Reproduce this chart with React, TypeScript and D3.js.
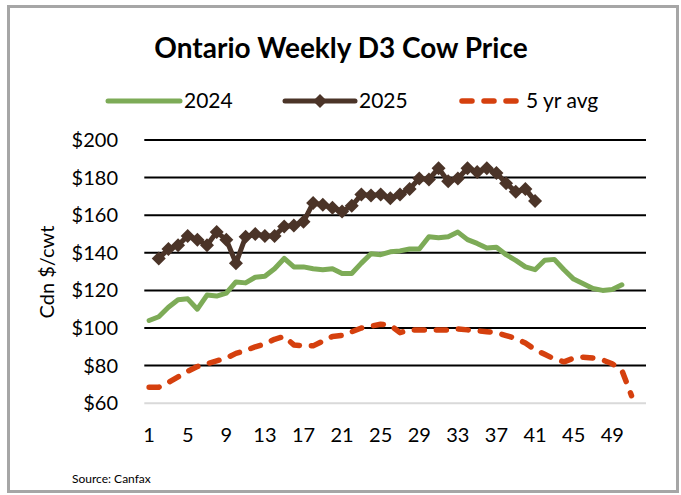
import React, { useEffect, useRef } from "react";
import * as d3 from "d3";

// weekly price, Cdn $/cwt (index 0 = week 1)
const price2024 = [
  104, 106, 111, 115, 115.5, 110, 117.5, 117, 118.5, 124.5, 124, 127, 127.5, 131.5, 137, 132.5,
  132.5, 131.5, 131, 131.5, 129, 129, 134.5, 139.5, 139, 140.5, 141, 142, 142, 148.5, 148,
  148.5, 151, 147, 145, 142.5, 143, 139, 136, 132.5, 131, 136, 136.5, 131, 126, 123.5, 121,
  120, 120.5, 123,
];
const price2025 = [
  null, 137, 142, 144, 149, 147, 144, 151, 147, 134.5, 148.5, 150, 149, 149, 154, 154.5,
  156.5, 166.5, 165.5, 164, 162, 165, 171, 170.5, 171, 169, 171, 174, 179.5, 179, 185, 178,
  179.5, 185, 183, 185, 182.5, 177, 172.5, 174, 167.5,
];
const avg5yr = [
  68.5, 68.5, 71, 74, 77, 79.5, 81, 82.5, 84, 86.5, 88, 90, 91.5, 94, 95.5, 91, 90.5, 90.5,
  93, 95.5, 96, 98, 100, 101, 102, 101.5, 97.5, 99, 99, 99, 99, 99, 99.5, 99, 98.5, 98, 97.5,
  96, 94.5, 92, 88.5, 86, 83.5, 82, 84, 84.5, 84, 83, 81, 77.5, 64,
];

const weekCount = 52;
const xTickWeeks = [1, 5, 9, 13, 17, 21, 25, 29, 33, 37, 41, 45, 49];
const yTickValues = [60, 80, 100, 120, 140, 160, 180, 200];

const seriesNames = ["2024", "2025", "5 yr avg"];
const GREEN = "#7DAB57";
const BROWN = "#4B3428";
const RED = "#D5400E";
const FONT = "Lato, 'Open Sans', sans-serif";

const diamond = (r) => `M0,${-r}L${r},0L0,${r}L${-r},0Z`;

const App = () => {
  const ref = useRef(null);

  useEffect(() => {
    const width = 681;
    const height = 495;
    const plot = { left: 144.3, right: 646, top: 140, bottom: 403.2 };

    const svg = d3
      .select(ref.current)
      .html("")
      .append("svg")
      .attr("width", width)
      .attr("height", height)
      .style("position", "absolute")
      .style("left", 0)
      .style("top", 0)
      .style("background", "#fff");

    // outer frame
    svg
      .append("rect")
      .attr("x", 8.5)
      .attr("y", 6.5)
      .attr("width", 669)
      .attr("height", 485)
      .attr("fill", "#fff")
      .attr("stroke", "#A6A6A6")
      .attr("stroke-width", 3);

    const x = d3
      .scaleBand()
      .domain(d3.range(1, weekCount + 1))
      .range([plot.left, plot.right])
      .padding(0);
    const cx = (w) => x(w) + x.bandwidth() / 2;

    const y = d3.scaleLinear().domain([60, 200]).range([plot.bottom, plot.top]);

    // gridlines
    svg
      .append("g")
      .selectAll("line")
      .data(yTickValues.filter((v) => v > 60))
      .join("line")
      .attr("x1", plot.left)
      .attr("x2", plot.right)
      .attr("y1", (d) => y(d))
      .attr("y2", (d) => y(d))
      .attr("stroke", "#000")
      .attr("stroke-width", 2);

    // x axis line
    svg
      .append("line")
      .attr("x1", plot.left)
      .attr("x2", plot.right)
      .attr("y1", y(60))
      .attr("y2", y(60))
      .attr("stroke", "#D9D9D9")
      .attr("stroke-width", 2);

    // y tick labels
    svg
      .append("g")
      .selectAll("text")
      .data(yTickValues)
      .join("text")
      .attr("x", 118)
      .attr("y", (d) => y(d))
      .attr("dy", "0.35em")
      .attr("text-anchor", "end")
      .attr("font-family", FONT)
      .attr("font-size", 20)
      .attr("fill", "#000")
      .text((d) => `$${d}`);

    // x tick labels
    svg
      .append("g")
      .selectAll("text")
      .data(xTickWeeks)
      .join("text")
      .attr("x", (d) => cx(d))
      .attr("y", 435)
      .attr("dy", "0.35em")
      .attr("text-anchor", "middle")
      .attr("font-family", FONT)
      .attr("font-size", 20)
      .attr("fill", "#000")
      .text((d) => d);

    // y axis title
    svg
      .append("text")
      .attr("transform", "translate(47,272) rotate(-90)")
      .attr("dy", "0.35em")
      .attr("text-anchor", "middle")
      .attr("font-family", FONT)
      .attr("font-size", 20)
      .attr("fill", "#000")
      .text("Cdn $/cwt");

    const line = d3
      .line()
      .defined((d) => d != null)
      .x((d, i) => cx(i + 1))
      .y((d) => y(d))
      .curve(d3.curveLinear);

    // 5 yr avg
    svg
      .append("path")
      .datum(avg5yr)
      .attr("d", line)
      .attr("fill", "none")
      .attr("stroke", RED)
      .attr("stroke-width", 5.5)
      .attr("stroke-dasharray", "10,12")
      .attr("stroke-linecap", "round")
      .attr("stroke-linejoin", "round");

    // 2024
    svg
      .append("path")
      .datum(price2024)
      .attr("d", line)
      .attr("fill", "none")
      .attr("stroke", GREEN)
      .attr("stroke-width", 5)
      .attr("stroke-linecap", "round")
      .attr("stroke-linejoin", "round");

    // 2025 with diamond markers
    svg
      .append("path")
      .datum(price2025)
      .attr("d", line)
      .attr("fill", "none")
      .attr("stroke", BROWN)
      .attr("stroke-width", 5)
      .attr("stroke-linejoin", "round");

    svg
      .append("g")
      .selectAll("path")
      .data(price2025.map((v, i) => ({ v, w: i + 1 })).filter((d) => d.v != null))
      .join("path")
      .attr("transform", (d) => `translate(${cx(d.w)},${y(d.v)})`)
      .attr("d", diamond(7))
      .attr("fill", BROWN);

    // title
    svg
      .append("text")
      .attr("x", 341)
      .attr("y", 48)
      .attr("dy", "0.35em")
      .attr("text-anchor", "middle")
      .attr("font-family", FONT)
      .attr("font-size", 28)
      .attr("font-weight", "bold")
      .attr("fill", "#000")
      .text("Ontario Weekly D3 Cow Price");

    // legend
    const legendY = 101;
    const legend = [
      { name: seriesNames[0], x0: 108, x1: 180, color: GREEN, dash: null, marker: false },
      { name: seriesNames[1], x0: 285, x1: 355, color: BROWN, dash: null, marker: true },
      { name: seriesNames[2], x0: 462, x1: 522, color: RED, dash: "10,12", marker: false },
    ];
    const lg = svg.append("g");
    legend.forEach((d) => {
      lg.append("line")
        .attr("x1", d.x0)
        .attr("x2", d.x1)
        .attr("y1", legendY)
        .attr("y2", legendY)
        .attr("stroke", d.color)
        .attr("stroke-width", d.dash ? 5.5 : 5)
        .attr("stroke-dasharray", d.dash)
        .attr("stroke-linecap", "round");
      if (d.marker) {
        lg.append("path")
          .attr("transform", `translate(${(d.x0 + d.x1) / 2},${legendY})`)
          .attr("d", diamond(7))
          .attr("fill", d.color);
      }
      lg.append("text")
        .attr("x", d.x1 + 4)
        .attr("y", legendY)
        .attr("dy", "0.35em")
        .attr("font-family", FONT)
        .attr("font-size", 21)
        .attr("fill", "#000")
        .text(d.name);
    });

    // source note
    svg
      .append("text")
      .attr("x", 72)
      .attr("y", 479)
      .attr("dy", "0.35em")
      .attr("font-family", FONT)
      .attr("font-size", 12)
      .attr("fill", "#000")
      .text("Source:  Canfax");
  }, []);

  return <div ref={ref} />;
};

export default App;
